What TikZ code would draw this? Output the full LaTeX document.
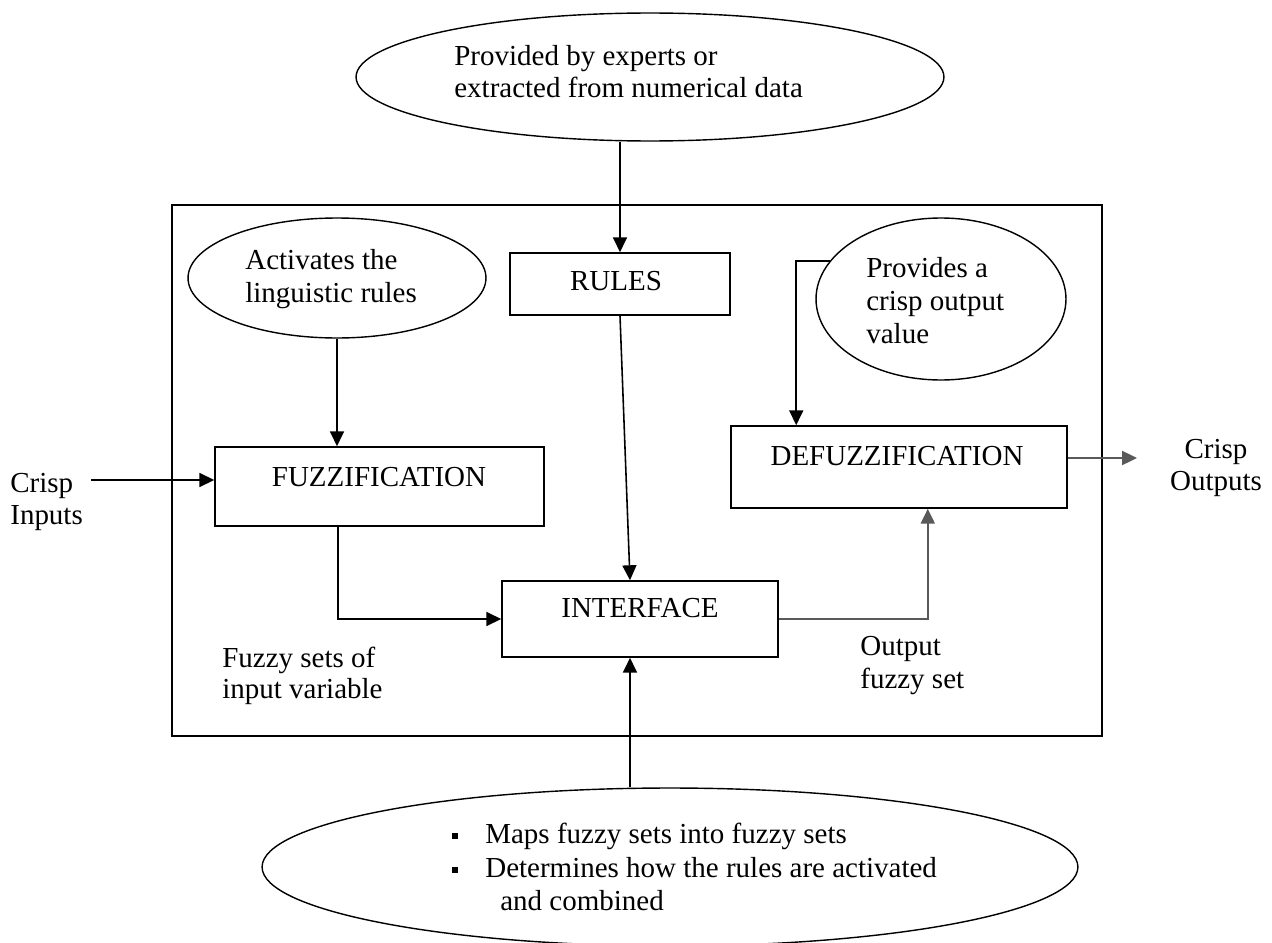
\documentclass[tikz,border=0pt]{standalone}
\usepackage{fontspec}
\setmainfont{Liberation Serif}
\usetikzlibrary{shapes.geometric,arrows.meta}
\begin{document}
\begin{tikzpicture}[x=0.02cm,y=-0.02cm,
  every node/.style={inner sep=0pt},
  txt/.style={font=\fontsize{16.5pt}{19pt}\selectfont, anchor=base west},
  ctxt/.style={font=\fontsize{16.5pt}{19pt}\selectfont, anchor=base},
  capt/.style={font=\fontsize{16.5pt}{19pt}\selectfont, anchor=center},
  oval/.style={draw, ellipse, line width=0.8pt},
  blk/.style={draw, rectangle, line width=0.9pt},
  arr/.style={line width=0.9pt, -{Triangle[length=8.5pt,width=8pt]}},
  greyarr/.style={draw=black!65, line width=1.1pt, -{Triangle[length=8.5pt,width=8pt]}},
  bullet/.style={fill, minimum size=0.12cm},
]
\useasboundingbox (0,0) rectangle (1272,943);

% outer frame of the fuzzy system
\node[blk, line width=1.1pt, minimum width=18.6cm, minimum height=10.62cm] (frame) at (637,470.5) {};

% ovals
\node[oval, minimum width=11.76cm, minimum height=2.56cm] (source) at (650,77) {};
\node[oval, minimum width=5.96cm, minimum height=2.4cm] (activate) at (337,278) {};
\node[oval, minimum width=5cm, minimum height=3.24cm] (crispval) at (941,299) {};
\node[oval, minimum width=16.32cm, minimum height=3.16cm] (maps) at (670,867) {};

% blocks
\node[blk, minimum width=4.4cm, minimum height=1.24cm] (rules) at (620,284) {};
\node[blk, minimum width=6.58cm, minimum height=1.58cm] (fuzz) at (379.5,486.5) {};
\node[blk, minimum width=6.72cm, minimum height=1.64cm] (defuzz) at (899,467) {};
\node[blk, minimum width=5.52cm, minimum height=1.52cm] (inter) at (640,619) {};

% block titles
\node[capt] (rulesT) at (616,281) {RULES};
\node[capt] (fuzzT) at (379,477) {FUZZIFICATION};
\node[capt] (defuzzT) at (897,456) {DEFUZZIFICATION};
\node[capt] (interT) at (640,608) {INTERFACE};

% oval texts
\node[txt] (src1) at (454,65) {Provided by experts or};
\node[txt] (src2) at (454,97) {extracted from numerical data};
\node[txt] (act1) at (245,269) {Activates the};
\node[txt] (act2) at (245,302) {linguistic rules};
\node[txt] (cv1) at (866,277) {Provides a};
\node[txt] (cv2) at (866,310) {crisp output};
\node[txt] (cv3) at (866,343) {value};
\node[bullet] (b1) at (455,836) {};
\node[bullet] (b2) at (455,870) {};
\node[txt] (map1) at (485,843) {Maps fuzzy sets into fuzzy sets};
\node[txt] (map2) at (485,877) {Determines how the rules are activated};
\node[txt] (map3) at (500,910) {and combined};

% free labels
\node[txt] (in1) at (10,492) {Crisp};
\node[txt] (in2) at (10,524) {Inputs};
\node[ctxt] (out1) at (1216,458) {Crisp};
\node[ctxt] (out2) at (1216,490) {Outputs};
\node[txt] (fs1) at (222,667) {Fuzzy sets of};
\node[txt] (fs2) at (222,698) {input variable};
\node[txt] (ofs1) at (860,655) {Output};
\node[txt] (ofs2) at (860,688) {fuzzy set};

% connector end points
\coordinate (inStart) at (91,480);
\coordinate (outEnd) at (1137,458);
\coordinate (interBot) at ([xshift=-0.2cm]inter.south);

% connectors
\draw[arr] (source.south -| rules.north) -- (rules.north);
\draw[arr] (activate.south) -- (activate.south |- fuzz.north);
\draw[arr] (inStart) -- (inStart -| fuzz.west);
\draw[arr] ([xshift=2.48cm]fuzz.south west) |- (inter.west);
\draw[arr] (rules.south) -- ([xshift=-0.2cm]inter.north);
\draw[arr] (maps.north -| interBot) -- (interBot);
\draw[arr] (crispval.161.6) -| ([xshift=1.32cm]defuzz.north west);
\draw[greyarr] (inter.east) -| ([xshift=-2.8cm]defuzz.south east);
\draw[greyarr] (outEnd -| defuzz.east) -- (outEnd);
\end{tikzpicture}
\end{document}
